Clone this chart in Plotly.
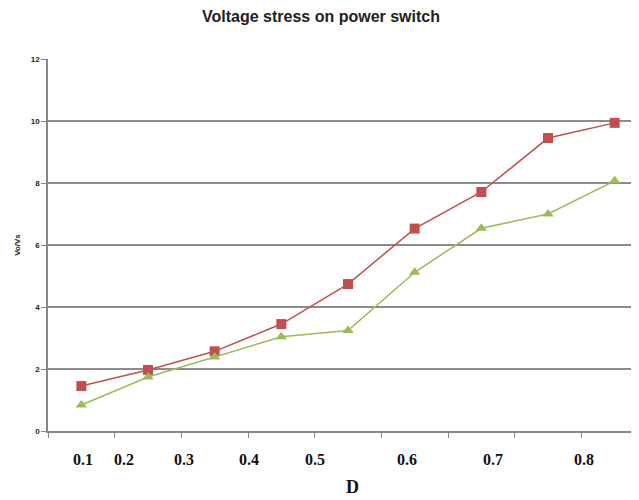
import plotly.graph_objects as go

duty = ["0.1", "0.2", "0.3", "0.4", "0.5", "0.6", "0.7", "0.8"]
points = [1, 2, 3, 4, 5, 6, 7, 8, 9]
series_red = [1.45, 1.97, 2.57, 3.45, 4.74, 6.53, 7.71, 9.45, 9.94]
series_green = [0.84, 1.74, 2.39, 3.04, 3.24, 5.12, 6.54, 7.0, 8.07]
label_pos = [1.03, 1.64, 2.54, 3.52, 4.51, 5.88, 7.17, 8.54]
y_ticks = [0, 2, 4, 6, 8, 10, 12]

fig = go.Figure()
fig.add_trace(go.Scatter(x=points, y=series_red, mode="lines+markers",
                         line=dict(color="#C0504D", width=1.5),
                         marker=dict(symbol="square", size=10, color="#C0504D"),
                         showlegend=False))
fig.add_trace(go.Scatter(x=points, y=series_green, mode="lines+markers",
                         line=dict(color="#9BBB59", width=1.5),
                         marker=dict(symbol="triangle-up", size=10, color="#9BBB59"),
                         showlegend=False))

for lab, xp in zip(duty, label_pos):
    fig.add_annotation(x=xp, y=0, xref="x", yref="y", yshift=-28, text="<b>%s</b>" % lab,
                       showarrow=False, font=dict(family="Liberation Serif", size=16, color="#111"))

fig.add_annotation(x=(352 - 48) / (591 / 8.865) + 0.5, y=0, xref="x", yref="y", yshift=-56,
                   text="<b>D</b>", showarrow=False,
                   font=dict(family="Liberation Serif", size=18, color="#111"))

fig.update_layout(
    width=631, height=492,
    margin=dict(l=40, r=0, t=51, b=69, autoexpand=False),
    paper_bgcolor="white", plot_bgcolor="white",
    title=dict(text="<b>Voltage stress on power switch</b>", x=(321 - 48) / 591, xanchor="center",
               xref="paper", y=1 - 8 / 492, yanchor="middle",
               font=dict(family="Liberation Sans", size=16, color="#222")),
    xaxis=dict(range=[0.5, 9.365], tickvals=[0.5, 1.5, 2.5, 3.5, 4.5, 5.5, 6.5, 7.5, 8.5],
               ticktext=[""] * 9, ticks="outside", ticklen=5, tickcolor="#888", automargin=False,
               showline=True, linecolor="#888", linewidth=1.5, showgrid=False, zeroline=False),
    yaxis=dict(range=[0, 12], tickvals=y_ticks, ticks="outside", ticklen=5, tickcolor="#888",
               showline=True, linecolor="#888", linewidth=1.5, showgrid=True, gridcolor="#8c8c8c",
               gridwidth=1.5, zeroline=False, automargin=False,
               tickfont=dict(family="Liberation Sans", size=8, color="#222", weight="bold"),
               title=dict(text="<b>Vo/Vs</b>", standoff=9,
                          font=dict(family="Liberation Sans", size=8, color="#222"))),
)
fig.write_html("out.html")
